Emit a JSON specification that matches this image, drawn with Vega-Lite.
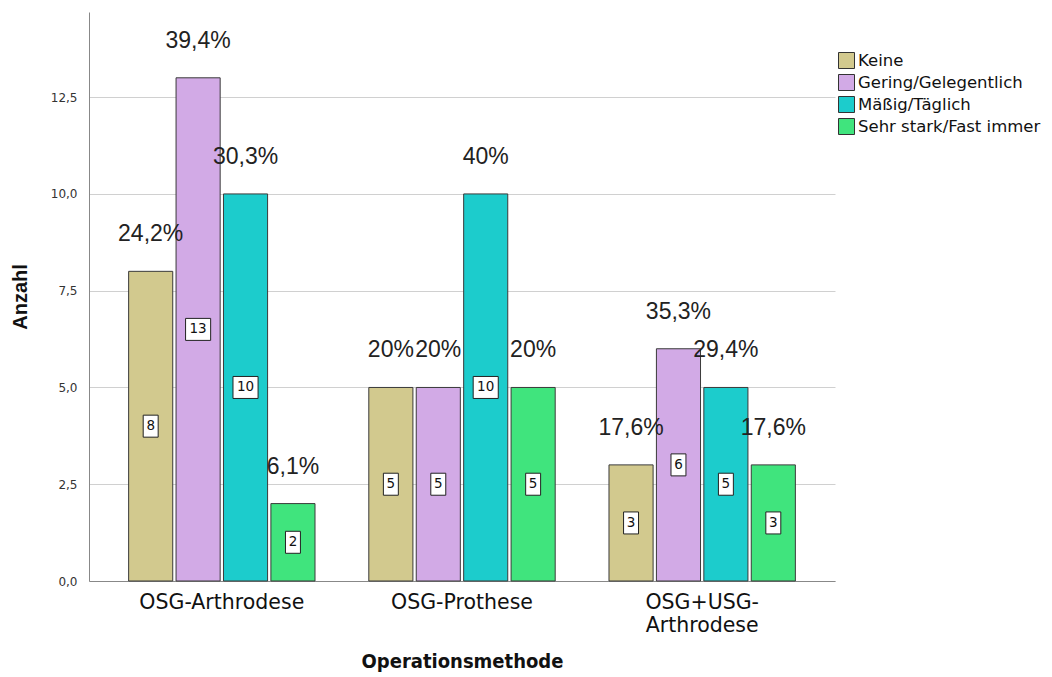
{
  "$schema": "https://vega.github.io/schema/vega-lite/v6.json",
  "width": 746,
  "height": 569,
  "autosize": "none",
  "padding": {"left": 89, "top": 12, "right": 217, "bottom": 96},
  "background": "white",
  "config": {"view": {"stroke": null}, "font": "Liberation Sans"},
  "data": {"values": [
    {"methode": "OSG-Arthrodese", "haeufigkeit": "Keine", "anzahl": 8, "prozent": "24,2%"},
    {"methode": "OSG-Arthrodese", "haeufigkeit": "Gering/Gelegentlich", "anzahl": 13, "prozent": "39,4%"},
    {"methode": "OSG-Arthrodese", "haeufigkeit": "Mäßig/Täglich", "anzahl": 10, "prozent": "30,3%"},
    {"methode": "OSG-Arthrodese", "haeufigkeit": "Sehr stark/Fast immer", "anzahl": 2, "prozent": "6,1%"},
    {"methode": "OSG-Prothese", "haeufigkeit": "Keine", "anzahl": 5, "prozent": "20%"},
    {"methode": "OSG-Prothese", "haeufigkeit": "Gering/Gelegentlich", "anzahl": 5, "prozent": "20%"},
    {"methode": "OSG-Prothese", "haeufigkeit": "Mäßig/Täglich", "anzahl": 10, "prozent": "40%"},
    {"methode": "OSG-Prothese", "haeufigkeit": "Sehr stark/Fast immer", "anzahl": 5, "prozent": "20%"},
    {"methode": "OSG+USG-Arthrodese", "haeufigkeit": "Keine", "anzahl": 3, "prozent": "17,6%"},
    {"methode": "OSG+USG-Arthrodese", "haeufigkeit": "Gering/Gelegentlich", "anzahl": 6, "prozent": "35,3%"},
    {"methode": "OSG+USG-Arthrodese", "haeufigkeit": "Mäßig/Täglich", "anzahl": 5, "prozent": "29,4%"},
    {"methode": "OSG+USG-Arthrodese", "haeufigkeit": "Sehr stark/Fast immer", "anzahl": 3, "prozent": "17,6%"}
  ]},
  "encoding": {
    "x": {
      "field": "methode", "type": "nominal",
      "sort": ["OSG-Arthrodese", "OSG-Prothese", "OSG+USG-Arthrodese"],
      "scale": {"paddingInner": 0.224, "paddingOuter": 0.165},
      "title": "Operationsmethode",
      "axis": {
        "labelAngle": 0,
        "labelFont": "DejaVu Sans",
        "labelFontSize": 20.5,
        "labelColor": "#111",
        "labelPadding": 11,
        "labelLineHeight": 23,
        "labelExpr": "datum.value == 'OSG+USG-Arthrodese' ? ['OSG+USG-', 'Arthrodese'] : datum.value",
        "ticks": false,
        "domainColor": "#888",
        "titleFont": "DejaVu Sans Condensed",
        "titleFontSize": 20,
        "titleFontWeight": "bold",
        "titleColor": "#111",
        "titlePadding": 16
      }
    },
    "xOffset": {
      "field": "haeufigkeit",
      "sort": ["Keine", "Gering/Gelegentlich", "Mäßig/Täglich", "Sehr stark/Fast immer"],
      "scale": {"paddingInner": 0.07, "paddingOuter": 0}
    }
  },
  "resolve": {"scale": {"y": "independent"}},
  "layer": [
    {
      "mark": {"type": "bar", "stroke": "#3a3a3a", "strokeWidth": 1},
      "encoding": {
        "y": {
          "field": "anzahl", "type": "quantitative",
          "scale": {"domain": [0, 14.7], "nice": false, "zero": true},
          "title": "Anzahl",
          "axis": {
            "values": [0, 2.5, 5, 7.5, 10, 12.5],
            "labelExpr": "replace(format(datum.value, '.1f'), '.', ',')",
            "labelFont": "DejaVu Sans",
            "labelFontSize": 12,
            "labelColor": "#333",
            "labelPadding": 12,
            "ticks": false,
            "domainColor": "#888",
            "gridColor": "#d0d0d0",
            "titleFont": "Liberation Sans",
            "titleFontSize": 20,
            "titleFontWeight": "bold",
            "titleColor": "#111",
            "titlePadding": 20
          }
        },
        "color": {
          "field": "haeufigkeit", "type": "nominal",
          "sort": ["Keine", "Gering/Gelegentlich", "Mäßig/Täglich", "Sehr stark/Fast immer"],
          "scale": {
            "domain": ["Keine", "Gering/Gelegentlich", "Mäßig/Täglich", "Sehr stark/Fast immer"],
            "range": ["#d2c98e", "#d2aae6", "#1ccccc", "#40e47d"]
          },
          "legend": {
            "title": null,
            "orient": "none",
            "legendX": 749,
            "legendY": 40,
            "symbolType": "square",
            "symbolSize": 256,
            "symbolStrokeColor": "#333",
            "symbolStrokeWidth": 1,
            "symbolOpacity": 1,
            "labelFont": "DejaVu Sans",
            "labelFontSize": 16.5,
            "labelColor": "#111",
            "labelOffset": 3,
            "labelLimit": 300,
            "rowPadding": 1
          }
        }
      }
    },
    {
      "mark": {"type": "text", "baseline": "alphabetic", "dy": -30, "fontSize": 23, "font": "Liberation Sans", "color": "#222"},
      "encoding": {
        "y": {"field": "anzahl", "type": "quantitative", "scale": {"domain": [0, 14.7], "nice": false}, "axis": null},
        "text": {"field": "prozent"}
      }
    },
    {
      "transform": [{"filter": "datum.anzahl < 10"}],
      "mark": {"type": "point", "shape": "M-0.68,-1H0.68V1H-0.68Z", "size": 484, "filled": true, "fill": "white", "stroke": "#222", "strokeWidth": 1, "opacity": 1},
      "encoding": {
        "y": {"field": "anzahl", "type": "quantitative", "scale": {"domain": [0, 29.4], "nice": false}, "axis": null}
      }
    },
    {
      "transform": [{"filter": "datum.anzahl >= 10"}],
      "mark": {"type": "point", "shape": "M-1.14,-1H1.14V1H-1.14Z", "size": 484, "filled": true, "fill": "white", "stroke": "#222", "strokeWidth": 1, "opacity": 1},
      "encoding": {
        "y": {"field": "anzahl", "type": "quantitative", "scale": {"domain": [0, 29.4], "nice": false}, "axis": null}
      }
    },
    {
      "mark": {"type": "text", "baseline": "middle", "fontSize": 13.5, "font": "DejaVu Sans", "color": "#111"},
      "encoding": {
        "y": {"field": "anzahl", "type": "quantitative", "scale": {"domain": [0, 29.4], "nice": false}, "axis": null},
        "text": {"field": "anzahl", "type": "quantitative"}
      }
    }
  ]
}
